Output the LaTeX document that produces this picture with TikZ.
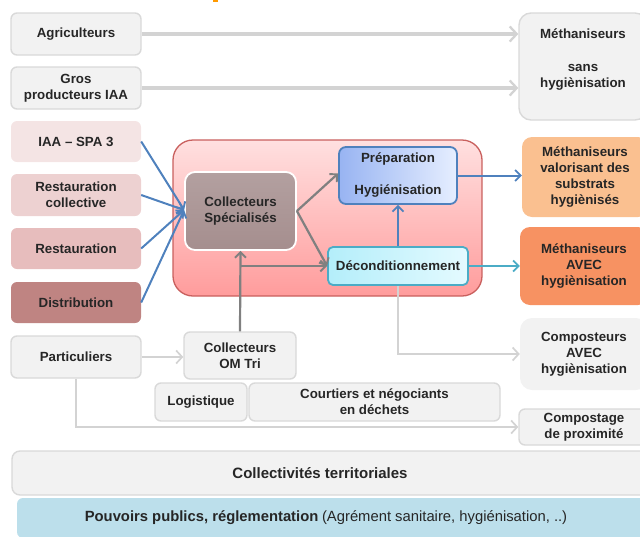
\documentclass[tikz,border=0pt]{standalone}
\usepackage{fontspec}
\setmainfont{Liberation Sans}
\usetikzlibrary{arrows.meta}
\definecolor{bxfill}{HTML}{F2F2F2}
\definecolor{bxline}{HTML}{D9D9D9}
\definecolor{pk1}{HTML}{F4E4E4}
\definecolor{pk2}{HTML}{EDD1D1}
\definecolor{pk3}{HTML}{E7BDBD}
\definecolor{pk4}{HTML}{BF8482}
\definecolor{redline}{HTML}{C9605E}
\definecolor{redtop}{HTML}{FFE0E0}
\definecolor{redbot}{HTML}{FF9C9C}
\definecolor{csA}{HTML}{B3A0A0}
\definecolor{csB}{HTML}{A58E8E}
\definecolor{blueline}{HTML}{4F81BD}
\definecolor{cyanline}{HTML}{4BACC6}
\definecolor{prepL}{HTML}{98B4F2}
\definecolor{prepR}{HTML}{E6EEFF}
\definecolor{decL}{HTML}{B4EEFA}
\definecolor{decR}{HTML}{E4FAFF}
\definecolor{orlight}{HTML}{FAC090}
\definecolor{ordark}{HTML}{F79262}
\definecolor{pblue}{HTML}{BCDFEB}
\definecolor{arrgray}{HTML}{808080}
\definecolor{arrlight}{HTML}{D3D3D3}
\tikzset{
  txt/.style={font=\fontsize{13.3}{16}\selectfont\bfseries, align=center, text=black!85},
  gbox/.style={txt, draw=bxline, line width=1.4pt, fill=bxfill, rounded corners=6pt, inner sep=0pt},
  pbox/.style={txt, rounded corners=6pt, inner sep=0pt},
  lightarr/.style={draw=arrlight, line width=3.4pt, -{Straight Barb[length=7pt,width=15pt,line width=2.3pt]}},
  lightarrthin/.style={draw=arrlight, line width=2.2pt, -{Straight Barb[length=6pt,width=13pt,line width=1.7pt]}},
  bluearr/.style={draw=blueline, line width=2pt, -{Straight Barb[length=5.5pt,width=11pt,line width=1.8pt]}},
  cyanarr/.style={draw=cyanline, line width=2pt, -{Straight Barb[length=5.5pt,width=11pt,line width=1.8pt]}},
  grayarr/.style={draw=arrgray, line width=2.2pt, -{Straight Barb[length=5.5pt,width=11pt,line width=1.9pt]}},
}
\begin{document}
\begin{tikzpicture}[x=1pt,y=-1pt]
\useasboundingbox (0,0) rectangle (640,536);
\fill[orange!80!yellow] (213,0) rectangle (218,2);
% left column
\node[gbox, minimum width=130, minimum height=42] (agri) at (76,34) {Agriculteurs};
\node[gbox, minimum width=130, minimum height=42] (gros) at (76,88) {Gros\\producteurs IAA};
\node[pbox, fill=pk1, minimum width=130, minimum height=41] (iaa) at (76,141.5) {IAA -- SPA 3};
\node[pbox, fill=pk2, minimum width=130, minimum height=42] (rcol) at (76,195) {Restauration\\collective};
\node[pbox, fill=pk3, minimum width=130, minimum height=41] (rest) at (76,248.5) {Restauration};
\node[pbox, fill=pk4, minimum width=130, minimum height=41] (dist) at (76,302.5) {Distribution};
\node[gbox, minimum width=130, minimum height=42] (part) at (76,357) {Particuliers};
% centre
\node[draw=redline, line width=1.3pt, top color=redtop, bottom color=redbot, rounded corners=20pt, minimum width=309, minimum height=156, inner sep=0pt] (cont) at (327.5,218) {};
\node[txt, draw=white, line width=1.8pt, top color=csA, bottom color=csB, rounded corners=10pt, minimum width=111, minimum height=78, inner sep=0pt] (cs) at (240.5,211) {Collecteurs\\Spécialisés};
\node[txt, draw=blueline, line width=1.8pt, left color=prepL, right color=prepR, rounded corners=7pt, minimum width=118, minimum height=57, inner sep=0pt] (prep) at (398,175.5) {Préparation\\[16pt]Hygiénisation};
\node[txt, draw=cyanline, line width=1.8pt, left color=decL, right color=decR, rounded corners=5pt, minimum width=140, minimum height=38, inner sep=0pt] (decon) at (398,266) {Déconditionnement};
\node[gbox, minimum width=112, minimum height=47] (omtri) at (240,355.5) {Collecteurs\\OM Tri};
\node[gbox, minimum width=92, minimum height=38] (logi) at (201,402) {Logistique};
\node[gbox, minimum width=251, minimum height=38] (court) at (374.5,402) {Courtiers et négociants\\en déchets};
% right column
\node[gbox, minimum width=128, minimum height=107, rounded corners=12pt] (msans) at (583,66.5) {};
\node[txt, anchor=north] (msanst) at (msans.north) [yshift=-13pt] {Méthaniseurs\\[17pt]sans\\hygiènisation};
\node[pbox, fill=orlight, rounded corners=10pt, minimum width=126, minimum height=80] (mval) at (585,177) {Méthaniseurs\\valorisant des\\substrats\\hygiènisés};
\node[pbox, fill=ordark, rounded corners=10pt, minimum width=128, minimum height=78] (mavec) at (584,266) {Méthaniseurs\\AVEC\\hygiènisation};
\node[pbox, fill=bxfill, rounded corners=12pt, minimum width=128, minimum height=72] (compo) at (584,354) {Composteurs\\AVEC\\hygiènisation};
\node[gbox, minimum width=130, minimum height=36] (cprox) at (584,427) {Compostage\\de proximité};
% bottom bars
\node[gbox, font=\fontsize{15}{18}\selectfont\bfseries, minimum width=640, minimum height=44, rounded corners=8pt] (coll) at (332,473) {\hspace*{-24pt}Collectivités territoriales};
\node[txt, fill=pblue, rounded corners=6pt, minimum width=635, minimum height=40, inner sep=0pt] (pouv) at (334.5,518) {\hspace*{-17pt}{\fontsize{14.8}{17}\selectfont Pouvoirs publics, réglementation} {\fontsize{14.8}{17}\selectfont\mdseries(Agrément sanitaire, hygiénisation, ..)}};
% connectors
\draw[lightarr] (agri.east) -- (agri.east -| msans.west);
\draw[lightarr] (gros.east) -- (gros.east -| msans.west);
\coordinate (csin) at ([yshift=1pt]cs.west);
\draw[bluearr] (iaa.east) -- (csin);
\draw[bluearr] (rcol.east) -- (csin);
\draw[bluearr] (rest.east) -- (csin);
\draw[bluearr] (dist.east) -- (csin);
\draw[grayarr] (cs.east) -- ([yshift=2pt]prep.west);
\draw[grayarr] (cs.east) -- (decon.west);
\draw[grayarr] (omtri.north) -- (cs.south);
\coordinate (br) at (omtri.north |- decon.west);
\draw[grayarr] (br) -- (decon.west);
\draw[bluearr] (decon.north) -- (prep.south);
\draw[bluearr] (prep.east) -- (prep.east -| mval.west);
\draw[cyanarr] (decon.east) -- (decon.east -| mavec.west);
\coordinate (dturn) at (decon.south |- compo.west);
\draw[lightarrthin] (decon.south) -- (dturn) -- (compo.west);
\draw[lightarrthin] (part.east) -- (part.east -| omtri.west);
\coordinate (pturn) at (part.south |- cprox.west);
\draw[lightarrthin] (part.south) -- (pturn) -- (cprox.west);
\end{tikzpicture}
\end{document}
